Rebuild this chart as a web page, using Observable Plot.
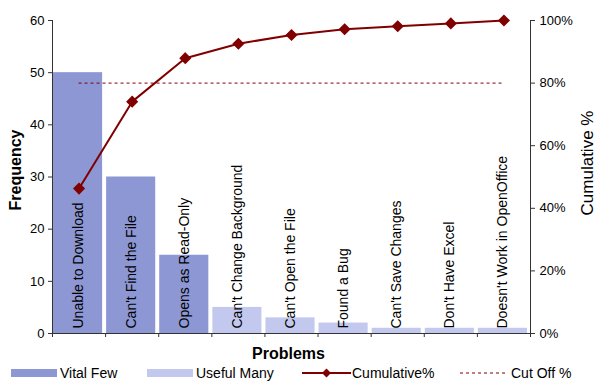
<!DOCTYPE html>
<html>
<head>
<meta charset="utf-8">
<script src="https://cdn.jsdelivr.net/npm/d3@7"></script>
<script src="https://cdn.jsdelivr.net/npm/@observablehq/plot@0.6"></script>
<style>
  body { margin: 0; background: #fff; font-family: "Liberation Sans", Arial, sans-serif; }
  #wrap { width: 598px; }
  .legend { position: relative; width: 598px; height: 22px; font-size: 14px; color: #000; }
  .legend .item { position: absolute; top: 0; height: 22px; display: flex; align-items: center; white-space: nowrap; }
  .legend .sw { display: inline-block; width: 46px; height: 8px; margin-right: 3px; }
  .legend svg { margin-right: 1px; }
</style>
</head>
<body>
<div id="wrap"></div>
<script>
const categories = ["Unable to Download", "Can't Find the File", "Opens as Read-Only", "Can't Change Background", "Can't Open the File", "Found a Bug", "Can't Save Changes", "Don't Have Excel", "Doesn't Work in OpenOffice"];
const frequency = [50, 30, 15, 5, 3, 2, 1, 1, 1];
const groups = ["Vital Few", "Vital Few", "Vital Few", "Useful Many", "Useful Many", "Useful Many", "Useful Many", "Useful Many", "Useful Many"];
const cutOff = 80;
const leftTicks = [0, 10, 20, 30, 40, 50, 60];
const rightTicks = [0, 20, 40, 60, 80, 100];

const total = d3.sum(frequency);
let run = 0;
const cumulative = frequency.map(v => { run += v; return run / total * 100; });
const data = categories.map((c, i) => ({ i, name: c, freq: frequency[i], group: groups[i], cum: cumulative[i] }));

const colors = { "Vital Few": "#8c97d4", "Useful Many": "#c3c9ee" };
const lineColor = "#800000";
const pctToY = p => p * 0.6;

const chart = Plot.plot({
  width: 598,
  height: 362,
  marginLeft: 52,
  marginRight: 68,
  marginTop: 20,
  marginBottom: 29,
  style: { fontFamily: "Liberation Sans, Arial, sans-serif", fontSize: "13px", color: "#000", background: "#fff" },
  x: { type: "linear", domain: [0, categories.length] },
  y: { domain: [0, 60] },
  marks: [
    Plot.rectY(data, { x1: d => d.i, x2: d => d.i + 1, y: "freq", fill: d => colors[d.group], insetLeft: 1, insetRight: 3 }),
    Plot.text(data, { x: d => d.i + 0.5, y: 0, text: "name", rotate: -90, textAnchor: "start", dy: -5, dx: -1, fontSize: 14, fill: "#000" }),
    Plot.ruleY([pctToY(cutOff)], { x1: 0.5, x2: categories.length - 0.5, stroke: lineColor, strokeWidth: 1, strokeDasharray: "3,3" }),
    Plot.line(data, { x: d => d.i + 0.5, y: d => pctToY(d.cum), stroke: lineColor, strokeWidth: 2 }),
    Plot.dot(data, { x: d => d.i + 0.5, y: d => pctToY(d.cum), symbol: "diamond2", r: 4.5, fill: lineColor, stroke: lineColor }),
    Plot.ruleX([0], { stroke: "#333" }),
    Plot.ruleX([categories.length], { stroke: "#333" }),
    Plot.ruleY([0], { stroke: "#333" }),
    Plot.axisY(leftTicks, { anchor: "left", tickSize: 4, tickPadding: 4, label: null, stroke: "#333" }),
    Plot.axisY(rightTicks.map(pctToY), { anchor: "right", tickSize: 4, tickPadding: 5, label: null, tickFormat: d => Math.round(d / 0.6) + "%", stroke: "#333" }),
    Plot.axisX(d3.range(0, categories.length + 1), { tickSize: 4, tickFormat: () => "", label: null, stroke: "#333" }),
    Plot.text(["Frequency"], { frameAnchor: "left", textAnchor: "middle", lineAnchor: "middle", dx: -37, dy: -7, rotate: -90, fontSize: 16, fontWeight: "bold", fill: "#000" }),
    Plot.text(["Cumulative %"], { frameAnchor: "right", textAnchor: "middle", lineAnchor: "middle", dx: 57, dy: -14, rotate: -90, fontSize: 17, fill: "#000" }),
    Plot.text(["Problems"], { frameAnchor: "bottom", textAnchor: "middle", lineAnchor: "middle", dx: -3, dy: 20, fontSize: 16, fontWeight: "bold", fill: "#000" })
  ]
});

const wrap = document.getElementById("wrap");
wrap.appendChild(chart);

const legend = document.createElement("div");
legend.className = "legend";
legend.innerHTML = `
  <div class="item" style="left:11px"><span class="sw" style="background:${colors["Vital Few"]}"></span>Vital Few</div>
  <div class="item" style="left:147px"><span class="sw" style="background:${colors["Useful Many"]}"></span>Useful Many</div>
  <div class="item" style="left:302px"><svg width="49" height="10"><line x1="0" x2="49" y1="5" y2="5" stroke="${lineColor}" stroke-width="2"/><path d="M24.5,0.5L29,5L24.5,9.5L20,5Z" fill="${lineColor}"/></svg>Cumulative%</div>
  <div class="item" style="left:460px"><svg width="50" height="10"><line x1="0" x2="46" y1="5" y2="5" stroke="${lineColor}" stroke-width="1" stroke-dasharray="3,3"/></svg>Cut Off %</div>
`;
wrap.appendChild(legend);
</script>
</body>
</html>
